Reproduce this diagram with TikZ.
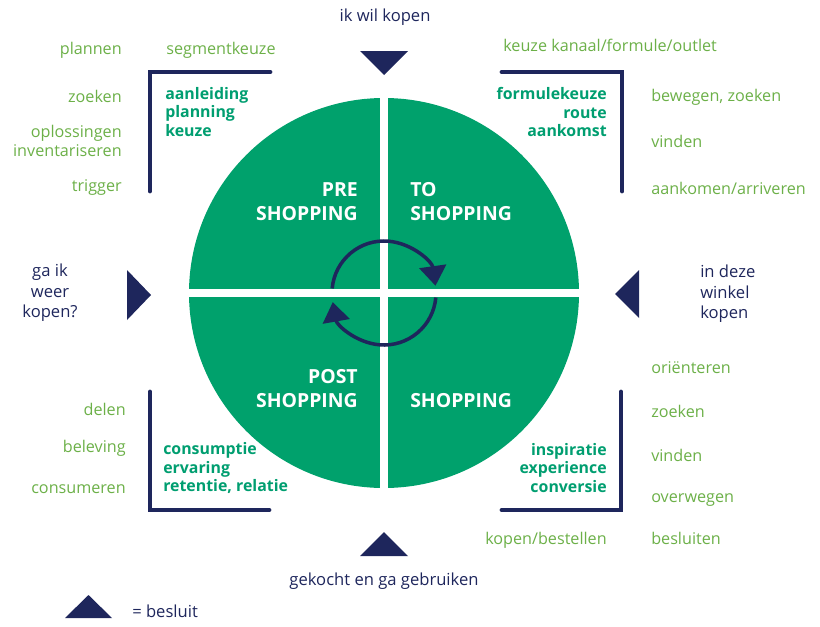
\documentclass[tikz,border=0pt]{standalone}
\usepackage{fontspec}
\setmainfont{Open Sans}
\usetikzlibrary{arrows.meta}
\definecolor{kgreen}{RGB}{0,161,108}
\definecolor{knavy}{RGB}{30,38,92}
\definecolor{klabel}{RGB}{108,176,72}
\definecolor{kbold}{RGB}{0,158,112}

\begin{document}
\begin{tikzpicture}[x=0.025cm, y=-0.025cm,
	lbl/.style={text=klabel, font=\fontsize{11.5}{13}\selectfont, inner sep=0pt},
	key/.style={text=kbold, font=\fontsize{11.3}{13.2}\selectfont\bfseries, inner sep=0pt},
	phase/.style={text=white, font=\fontsize{13.8}{17}\selectfont\bfseries, inner sep=0pt},
	ask/.style={text=knavy, font=\fontsize{11.8}{14.6}\selectfont, inner sep=0pt},
	bracket/.style={draw=knavy, line width=3.5pt, line cap=round},
	besluit/.style={fill=knavy},
	turn/.style={draw=knavy, line width=2.5pt, -{Triangle[length=14pt,width=19pt]}}]
		\useasboundingbox (0,0) rectangle (820,626);
		% wheel
		\fill[kgreen] (384,293) circle (195);
		\draw[white, line width=5.7pt] (384,90) -- (384,496) (180,293) -- (588,293);
		\draw[turn] (384,293) ++(-175:52) arc[start angle=-175, end angle=-8, radius=52];
		\draw[turn] (384,293) ++(5:52) arc[start angle=5, end angle=170, radius=52];
		\node[phase, align=right, anchor=east] (pre) at (358,202) {PRE\\SHOPPING};
		\node[phase, align=left, anchor=west] (to) at (410,202) {TO\\SHOPPING};
		\node[phase, align=right, anchor=east] (post) at (358,389) {POST\\SHOPPING};
		\node[phase, anchor=west] (shop) at (410,401) {SHOPPING};
		% decisions
		\fill[besluit] (360,51) -- (408,51) -- (384,75) -- cycle;
		\fill[besluit] (360,556) -- (408,556) -- (384,532) -- cycle;
		\fill[besluit] (127,270) -- (127,320) -- (151,295) -- cycle;
		\fill[besluit] (639,270) -- (639,318) -- (615,294) -- cycle;
		\fill[besluit] (65,618) -- (112,618) -- (88.5,595) -- cycle;
		\node[ask, anchor=mid] (wil) at (385,18) {ik wil kopen};
		\node[ask, anchor=mid] (gekocht) at (384,582) {gekocht en ga gebruiken};
		\node[ask, align=center] (weer) at (50,293) {ga ik\\weer\\kopen?};
		\node[ask, align=left, anchor=west] (winkel) at (700,294) {in deze\\winkel\\kopen};
		\node[ask, anchor=mid west] (legenda) at (132,614) {= besluit};
		% brackets
		\draw[bracket] (270,72) -- (150,72) -- (150,191);
		\draw[bracket] (502,72) -- (622,72) -- (622,191);
		\draw[bracket] (150,392) -- (150,510) -- (269,510);
		\draw[bracket] (621,392) -- (621,510) -- (502,510);
		\node[key, align=left, anchor=west] (prekey) at (165,112) {aanleiding\\planning\\keuze};
		\node[key, align=right, anchor=east] (tokey) at (607,112) {formulekeuze\\route\\aankomst};
		\node[key, align=left, anchor=west] (postkey) at (163,468) {consumptie\\ervaring\\retentie, relatie};
		\node[key, align=right, anchor=east] (shopkey) at (607,468) {inspiratie\\experience\\conversie};
		% steps
		\node[lbl, anchor=mid east] (plannen) at (122,51) {plannen};
		\node[lbl, anchor=mid] (segment) at (221,51) {segmentkeuze};
		\node[lbl, anchor=mid east] (zoeken1) at (122,99) {zoeken};
		\node[lbl, align=right, anchor=east] (oplossingen) at (122,141) {oplossingen\\inventariseren};
		\node[lbl, anchor=mid east] (trigger) at (122,188) {trigger};
		\node[lbl, anchor=mid west] (kanaal) at (503,48) {keuze kanaal/formule/outlet};
		\node[lbl, anchor=mid west] (bewegen) at (651,98) {bewegen, zoeken};
		\node[lbl, anchor=mid west] (vinden1) at (651,144) {vinden};
		\node[lbl, anchor=mid west] (aankomen) at (651,191) {aankomen/arriveren};
		\node[lbl, anchor=mid east] (delen) at (126,412) {delen};
		\node[lbl, anchor=mid east] (beleving) at (126,449) {beleving};
		\node[lbl, anchor=mid east] (consumeren) at (126,490) {consumeren};
		\node[lbl, anchor=mid west] (orienteren) at (651,370) {oriënteren};
		\node[lbl, anchor=mid west] (zoeken2) at (651,414) {zoeken};
		\node[lbl, anchor=mid west] (vinden2) at (651,458) {vinden};
		\node[lbl, anchor=mid west] (overwegen) at (651,499) {overwegen};
		\node[lbl, anchor=mid west] (besluiten) at (651,541) {besluiten};
		\node[lbl, anchor=mid east] (kopen) at (607,541) {kopen/bestellen};
\end{tikzpicture}
\end{document}
